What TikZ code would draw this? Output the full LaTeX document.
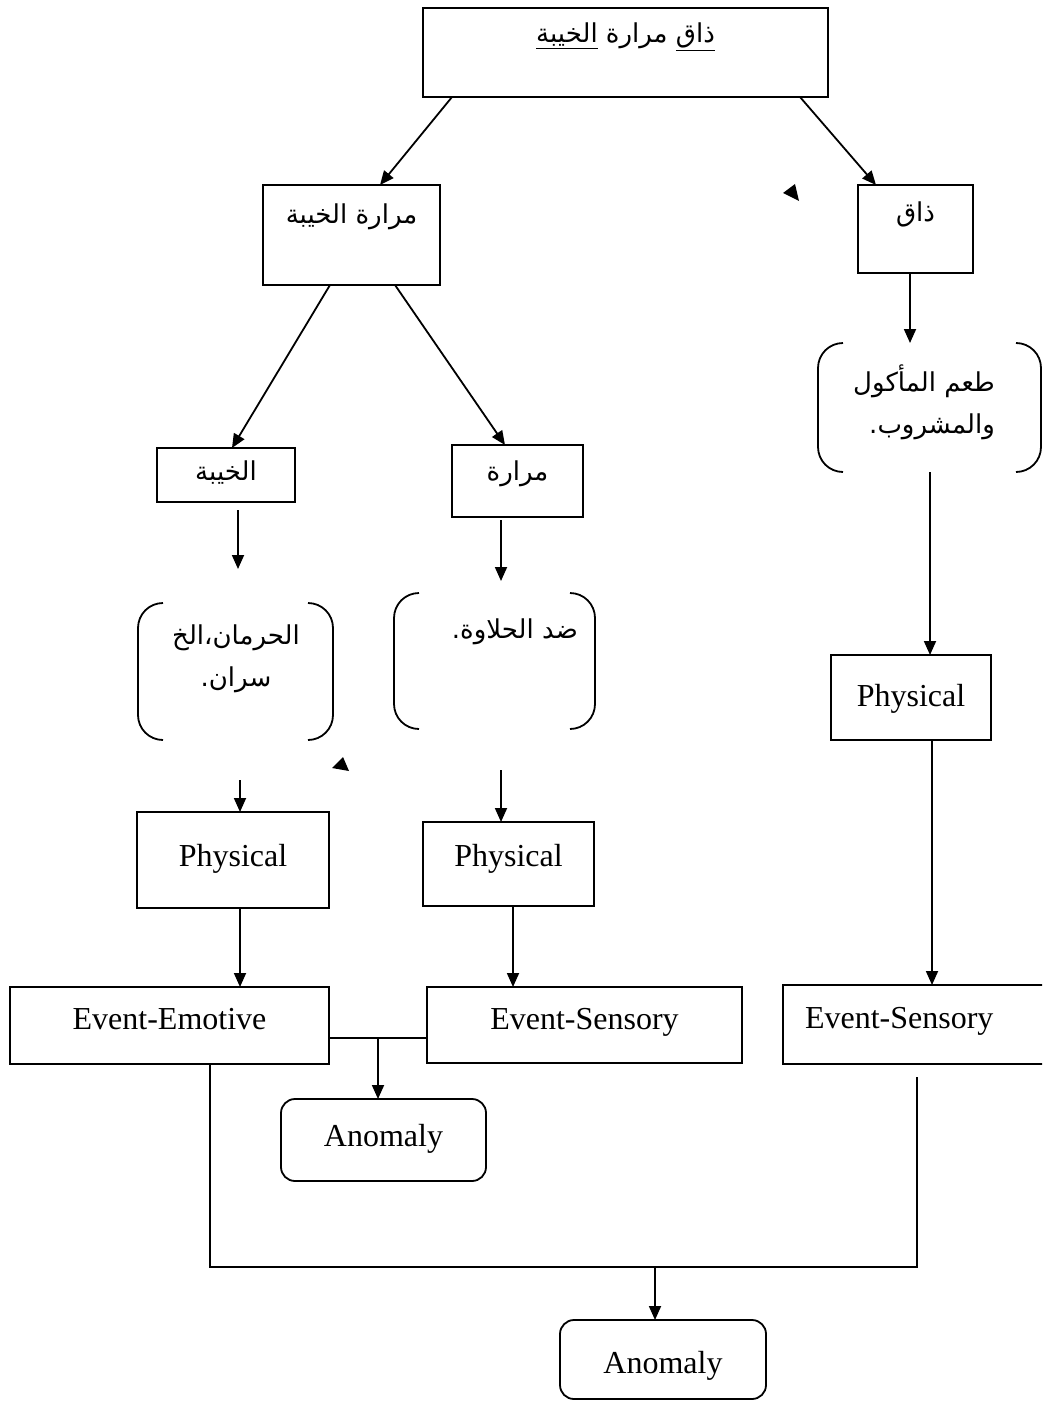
\documentclass[tikz,border=0pt]{standalone}
\usepackage{fontspec}
\setmainfont{Liberation Serif}
\newfontfamily\arabicfont[Script=Arabic]{DejaVu Sans}
\TeXXeTstate=1
\usetikzlibrary{arrows.meta,calc}

\tikzset{
  lw/.style={line width=1.8pt},
  box/.style={draw, lw, inner sep=0pt, outer sep=0pt, anchor=north west,
              font=\fontsize{32}{38}\selectfont},
  abox/.style={box, font=\arabicfont\fontsize{26}{42}\selectfont},
  rbox/.style={box, rounded corners=14pt},
  atext/.style={inner sep=0pt, font=\arabicfont\fontsize{26}{42}\selectfont},
  brackets/.style={inner sep=0pt, outer sep=0pt, anchor=north west,
    append after command={\pgfextra{%
      \draw[lw, rounded corners=25pt]
        ($(\tikzlastnode.north west)+(25,0)$) -- (\tikzlastnode.north west)
        -- (\tikzlastnode.south west) -- ($(\tikzlastnode.south west)+(25,0)$)
        ($(\tikzlastnode.north east)+(-25,0)$) -- (\tikzlastnode.north east)
        -- (\tikzlastnode.south east) -- ($(\tikzlastnode.south east)+(-25,0)$);}}},
  arr/.style={lw, -{Triangle[length=14pt,width=12pt]}},
}

\begin{document}
\begin{tikzpicture}[x=1pt,y=-1pt]
\useasboundingbox (0,0) rectangle (1042,1407);
\clip (0,0) rectangle (1042,1407);

% top row
\node[abox, minimum width=405pt, text height=35pt, text depth=54pt] (top) at (423,8)
  {\beginR\underline{ذاق} مرارة \underline{الخيبة}\endR};
\node[abox, minimum width=177pt, text height=38pt, text depth=62pt] (mk) at (263,185)
  {\beginR مرارة الخيبة\endR};
\node[abox, minimum width=115pt, text height=37pt, text depth=51pt] (dhaq) at (858,185)
  {\beginR ذاق\endR};

% second level
\node[abox, minimum width=138pt, text height=32pt, text depth=22pt] (khayba) at (157,448)
  {\beginR الخيبة\endR};
\node[abox, minimum width=131pt, text height=35pt, text depth=37pt] (marara) at (452,445)
  {\beginR مرارة\endR};

% bracketed meanings
\node[brackets, minimum width=195pt, minimum height=137pt] (br1) at (138,603) {};
\node[atext, align=center] (br1t) at ($(br1.north west)+(98,56)$)
  {\beginR الحرمان،الخ\endR\\\beginR سران.\endR};
\node[brackets, minimum width=201pt, minimum height=136pt] (br2) at (394,593) {};
\node[atext, anchor=east] (br2t) at ($(br2.north west)+(184,39)$) {\beginR ضد الحلاوة.\endR};
\node[brackets, minimum width=223pt, minimum height=129pt] (br3) at (818,343) {};
\node[atext, align=right, anchor=east] (br3t) at ($(br3.north west)+(177,59)$)
  {\beginR طعم المأكول\endR\\\beginR والمشروب.\endR};

% categories
\node[box, minimum width=192pt, text height=54pt, text depth=42pt] (phys1) at (137,812) {Physical};
\node[box, minimum width=171pt, text height=44pt, text depth=40pt] (phys2) at (423,822) {Physical};
\node[box, minimum width=160pt, text height=51pt, text depth=34pt] (phys3) at (831,655) {Physical};

\node[box, minimum width=319pt, text height=42pt, text depth=35pt] (emot) at (10,987) {Event-Emotive};
\node[box, minimum width=315pt, text height=42pt, text depth=34pt] (sens2) at (427,987) {Event-Sensory};
\node[box, inner xsep=22pt, text height=43pt, text depth=36pt] (sens3) at (783,985)
  {\makebox[256pt][l]{Event-Sensory}};

\node[rbox, minimum width=205pt, text height=47pt, text depth=35pt] (anom1) at (281,1099) {Anomaly};
\node[rbox, minimum width=206pt, text height=53pt, text depth=26pt] (anom2) at (560,1320) {Anomaly};

% slanted connectors from the top boxes
\draw[arr] ($(top.south west)+(29,0)$) -- ($(mk.north west)+(117,0)$);
\draw[arr] ($(top.south east)+(-28,0)$) -- ($(dhaq.north west)+(18,0)$);
\draw[arr] ($(mk.south west)+(67,0)$) -- ($(khayba.north west)+(75,0)$);
\draw[arr] ($(mk.south west)+(132,0)$) -- ($(marara.north west)+(53,0)$);

% vertical connectors
\coordinate (s1) at ($(khayba.south west)+(81,8)$);
\draw[arr] (s1) -- (s1 |- {$(br1.north)+(0,-34)$});
\coordinate (s2) at ($(marara.south west)+(49,3)$);
\draw[arr] (s2) -- (s2 |- {$(br2.north)+(0,-12)$});
\coordinate (s3) at ($(dhaq.south west)+(52,0)$);
\draw[arr] (s3) -- (s3 |- br3.north);
\coordinate (s4) at ($(br1.south west)+(102,40)$);
\draw[arr] (s4) -- (s4 |- phys1.north);
\coordinate (s5) at ($(br2.south west)+(107,41)$);
\draw[arr] (s5) -- (s5 |- phys2.north);
\coordinate (s6) at ($(br3.south west)+(112,0)$);
\draw[arr] (s6) -- (s6 |- phys3.north);
\coordinate (s7) at ($(phys1.south west)+(103,0)$);
\draw[arr] (s7) -- (s7 |- emot.north);
\coordinate (s8) at ($(phys2.south west)+(90,0)$);
\draw[arr] (s8) -- (s8 |- sens2.north);
\coordinate (s9) at ($(phys3.south west)+(101,0)$);
\draw[arr] (s9) -- (s9 |- sens3.north);

% joint of the two left events
\draw[lw] ($(emot.north east)+(0,51)$) -- ($(sens2.north west)+(0,51)$);
\coordinate (j1) at ($(emot.north east)+(49,51)$);
\draw[arr] (j1) -- (j1 |- anom1.north);

% lower bus
\coordinate (jl) at ($(emot.south west)+(200,203)$);
\coordinate (jr) at ($(sens3.south west)+(134,203)$);
\draw[lw] ($(emot.south west)+(200,0)$) -- (jl) -- (jr) -- ($(sens3.south west)+(134,13)$);
\coordinate (a2top) at ($(anom2.north west)+(95,0)$);
\draw[arr] (a2top |- jl) -- (a2top);

% loose arrowheads
\fill (332,768) -- (343,757) -- (349,771) -- cycle;
\fill (783,193) -- (795,184) -- (799,201) -- cycle;
\end{tikzpicture}
\end{document}
